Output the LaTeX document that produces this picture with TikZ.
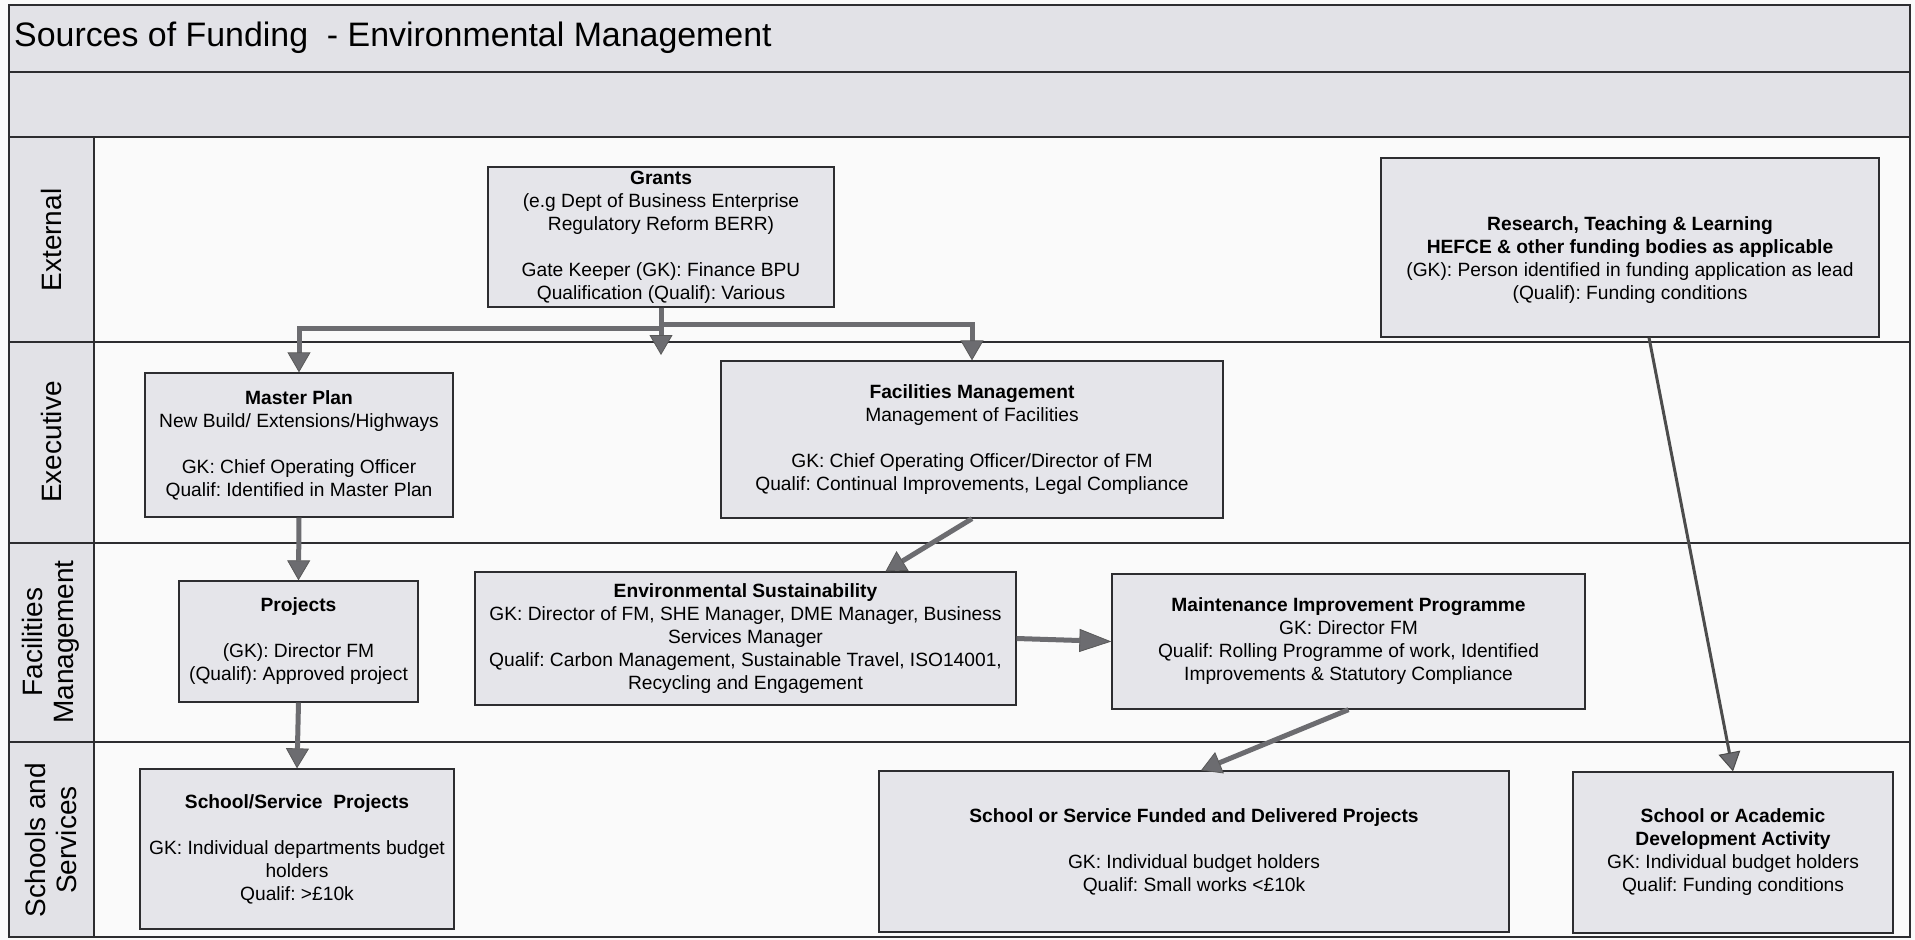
\documentclass[tikz,border=0pt]{standalone}
\usepackage{fontspec}
\setmainfont{Liberation Sans}
\usetikzlibrary{arrows.meta}
\frenchspacing
\definecolor{bandgray}{RGB}{226,226,231}
\definecolor{boxgray}{RGB}{229,229,234}
\definecolor{arrgray}{RGB}{108,108,112}
\definecolor{linegray}{RGB}{45,45,48}
\definecolor{lanebg}{RGB}{250,250,250}
\begin{document}
\begin{tikzpicture}[x=1pt,y=-1pt,
  box/.style={draw=linegray, line width=1.3pt, fill=boxgray, align=center,
    font=\fontsize{19.2}{23}\selectfont, inner sep=0pt},
  txt/.style={align=center, font=\fontsize{19.2}{23}\selectfont, inner sep=0pt},
  conn/.style={draw=arrgray, line width=5pt,
    -{Triangle[length=20pt,width=23pt,fill=arrgray,color=black!65,line width=0.8pt]}},
  thinconn/.style={draw=black!70, line width=3pt,
    -{Triangle[length=19pt,width=22pt,fill=arrgray,color=black!70,line width=1pt]}},
  lanelabel/.style={rotate=90, align=center, font=\fontsize{28}{31}\selectfont, inner sep=0pt},
  sep/.style={draw=linegray, line width=1.5pt}]
\useasboundingbox (0,0) rectangle (1915,940);
\fill[lanebg] (0,0) rectangle (1915,940);
% bands
\fill[bandgray] (9,5) rectangle (1910,137);
\fill[bandgray] (9,137) rectangle (94,937);
\draw[sep] (9,72) -- (1910,72);
\draw[sep] (9,137) -- (1910,137);
\draw[sep] (9,342) -- (1910,342);
\draw[sep] (9,543) -- (1910,543);
\draw[sep] (9,742) -- (1910,742);
\draw[sep] (94,137) -- (94,937);
\draw[sep] (9,5) rectangle (1910,937);
% title
\node[anchor=west, font=\fontsize{33.9}{40}\selectfont, inner sep=0pt] (title) at (14,38)
  {Sources of Funding\ \ - Environmental Management};
% lane labels
\node[lanelabel] (lext) at (51,240) {External};
\node[lanelabel] (lexe) at (51,442) {Executive};
\node[lanelabel] (lfm) at (51,642) {Facilities\\Management};
\node[lanelabel] (lss) at (51,840) {Schools and\\Services};
% boxes
\node[box, minimum width=346pt, minimum height=140pt] (grants) at (661,237)
  {\textbf{Grants}\\(e.g Dept of Business Enterprise\\Regulatory Reform BERR)\\[23pt]
   Gate Keeper (GK): Finance BPU\\Qualification (Qualif): Various};
\node[box, minimum width=498pt, minimum height=179pt] (research) at (1630,247.5) {};
\node[txt] (researchtxt) at (1630,260)
  {\textbf{Research, Teaching \& Learning}\\\textbf{HEFCE \& other funding bodies as applicable}\\
   (GK): Person identified in funding application as lead\\(Qualif): Funding conditions};
\node[box, minimum width=308pt, minimum height=144pt] (mp) at (299,445)
  {\textbf{Master Plan}\\New Build/ Extensions/Highways\\[23pt]
   GK: Chief Operating Officer\\Qualif: Identified in Master Plan};
\node[box, minimum width=502pt, minimum height=157pt] (fm) at (972,439.5)
  {\textbf{Facilities Management}\\Management of Facilities\\[23pt]
   GK: Chief Operating Officer/Director of FM\\Qualif: Continual Improvements, Legal Compliance};
\node[box, minimum width=239pt, minimum height=121pt] (proj) at (298.5,641.5)
  {\textbf{Projects}\\[23pt](GK): Director FM\\(Qualif): Approved project};
\node[box, minimum width=541pt, minimum height=133pt] (es) at (745.5,638.5)
  {\textbf{Environmental Sustainability}\\GK: Director of FM, SHE Manager, DME Manager, Business\\
   Services Manager\\Qualif: Carbon Management, Sustainable Travel, ISO14001,\\Recycling and Engagement};
\node[box, minimum width=473pt, minimum height=135pt] (mip) at (1348.5,641.5)
  {\textbf{Maintenance Improvement Programme}\\GK: Director FM\\
   Qualif: Rolling Programme of work, Identified\\Improvements \& Statutory Compliance};
\node[box, minimum width=314pt, minimum height=160pt] (ssp) at (297,849)
  {\textbf{School/Service\ \ Projects}\\[23pt]GK: Individual departments budget\\holders\\Qualif: >£10k};
\node[box, minimum width=630pt, minimum height=161pt] (ssf) at (1194,851.5)
  {\textbf{School or Service Funded and Delivered Projects}\\[23pt]
   GK: Individual budget holders\\Qualif: Small works <£10k};
\node[box, minimum width=320pt, minimum height=161pt] (sa) at (1733,852.5)
  {\textbf{School or Academic}\\\textbf{Development Activity}\\
   GK: Individual budget holders\\Qualif: Funding conditions};
% junction coordinates
\coordinate (jl) at (661,328);
\coordinate (jr) at (661,324);
\coordinate (jm) at (661,355);
% connectors
\draw[conn] (grants.south) -- (jl) -| (mp.north);
\draw[conn] (grants.south) -- (jr) -| (fm.north);
\draw[conn] (grants.south) -- (jm);
\draw[conn] (mp.south) -- (proj.north);
\draw[conn] (proj.south) -- (ssp.north);
\draw[conn] (fm.south) -- ([xshift=140pt]es.north);
\draw[conn, -{Triangle[length=32pt,width=23pt,fill=arrgray,color=black!65,line width=0.8pt]}] (es.east) -- (mip.west);
\draw[conn] (mip.south) -- ([xshift=7pt]ssf.north);
\draw[thinconn] ([xshift=19pt]research.south) -- (sa.north);
\end{tikzpicture}
\end{document}
